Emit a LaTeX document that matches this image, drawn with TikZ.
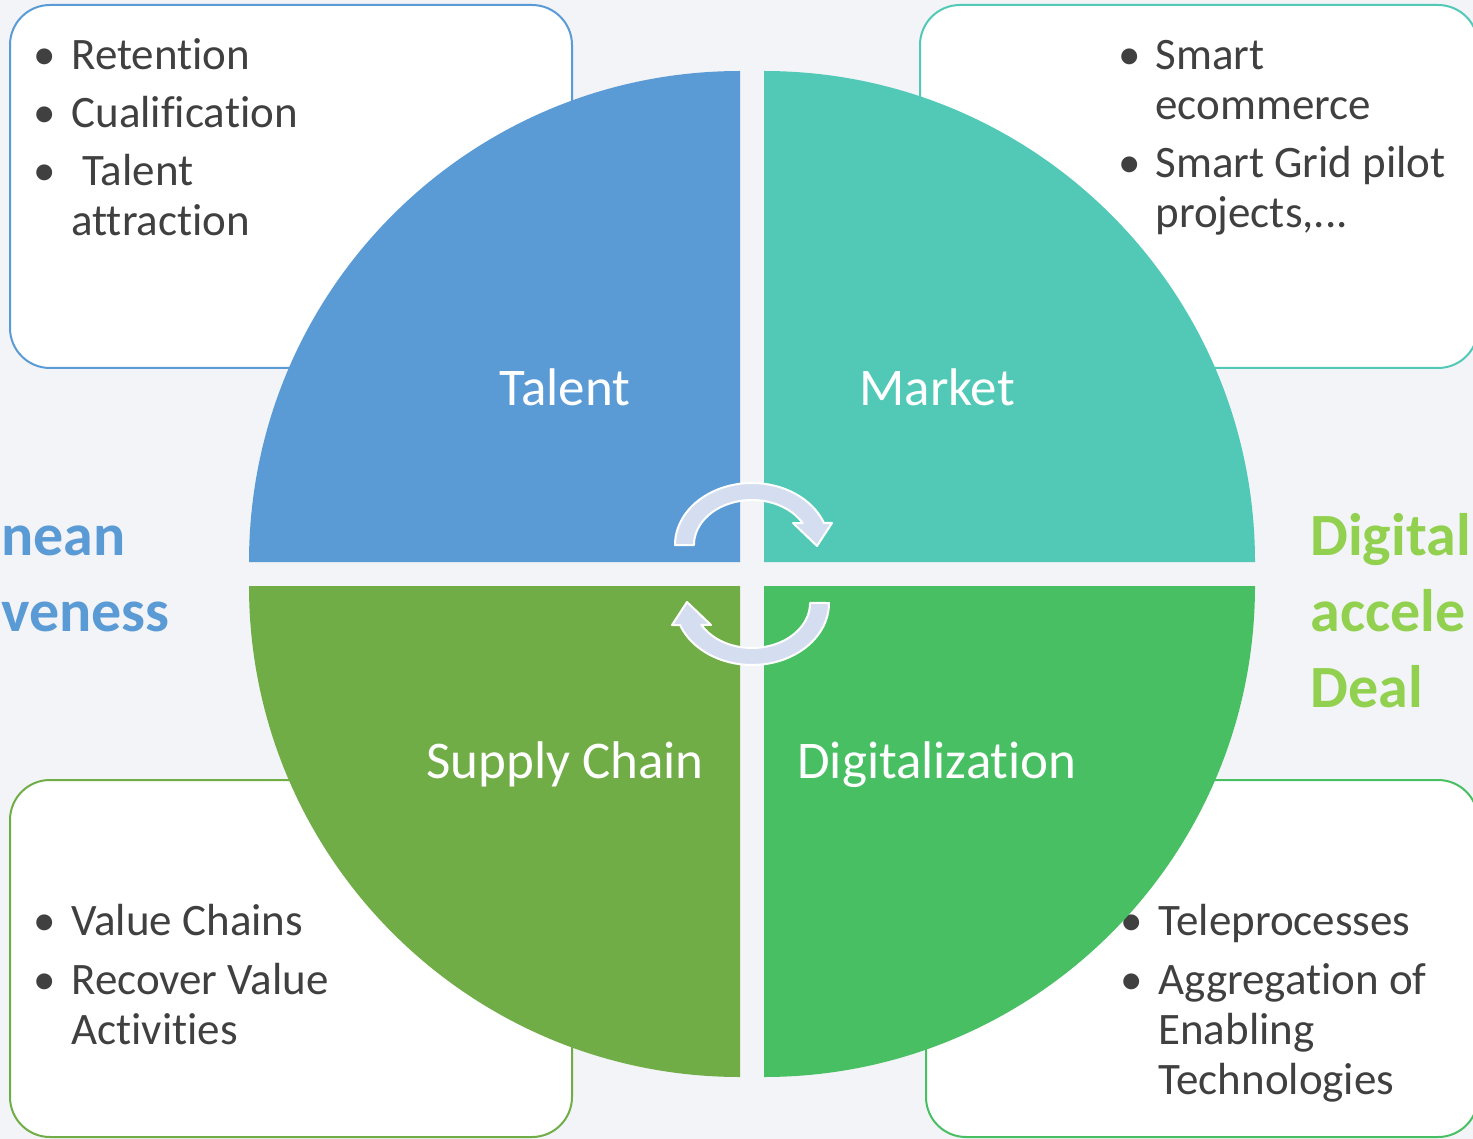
\documentclass[tikz,border=0pt]{standalone}
\usepackage{fontspec}
\setmainfont{Carlito}[RawFeature={-liga;-clig;-dlig;-calt}]

\definecolor{bgcol}{HTML}{F3F4F7}
\definecolor{talentcol}{HTML}{5B9BD5}
\definecolor{marketcol}{HTML}{52C9B6}
\definecolor{supplycol}{HTML}{70AD47}
\definecolor{digicol}{HTML}{48BF63}
\definecolor{bodytext}{HTML}{404040}
\definecolor{arrowcol}{HTML}{D4DEF0}
\definecolor{limecol}{HTML}{92D050}

\tikzset{
  itemtext/.style={anchor=base west, inner sep=0pt, text=bodytext, font=\fontsize{22.5}{25}\selectfont},
  itemdot/.style={anchor=base, inner sep=0pt, text=bodytext, font=\fontsize{22.5}{25}\selectfont},
  quadtext/.style={anchor=base, inner sep=0pt, text=white, font=\fontsize{26.5}{30}\selectfont},
  sidetext/.style={inner sep=0pt, font=\fontsize{30}{38}\selectfont\bfseries},
  listbox/.style={line width=1pt, fill=white, rounded corners=20pt},
  cyclearrow/.style={fill=arrowcol, draw=white, line width=1pt, line join=round}
}

\begin{document}
\begin{tikzpicture}[x=0.5pt, y=-0.5pt]

\useasboundingbox (0,0) rectangle (1473,1139);
\fill[bgcol] (0,0) rectangle (1473,1139);

% the four lists
\filldraw[listbox, draw=talentcol] (10,5) rectangle (572,368);
\filldraw[listbox, draw=marketcol] (920,5) rectangle (1478,368);
\filldraw[listbox, draw=supplycol] (10,780) rectangle (572,1137);
\filldraw[listbox, draw=digicol] (926,780) rectangle (1478,1137);

\node[itemdot] (dr1) at (45,70) {•};
\node[itemtext] (r1) at (71,70) {Retention};
\node[itemdot] (dr2) at (45,128) {•};
\node[itemtext] (r2) at (71,128) {Cualification};
\node[itemdot] (dr3) at (45,186) {•};
\node[itemtext] (r3) at (82,186) {Talent};
\node[itemtext] (r3b) at (71,236) {attraction};

\node[itemdot] (dm1) at (1130,70) {•};
\node[itemtext] (m1) at (1155,70) {Smart};
\node[itemtext] (m1b) at (1155,120) {ecommerce};
\node[itemdot] (dm2) at (1130,178) {•};
\node[itemtext] (m2) at (1155,178) {Smart Grid pilot};
\node[itemtext] (m2b) at (1155,228) {projects,...};

\node[itemdot] (ds1) at (45,935) {•};
\node[itemtext] (s1) at (71,935) {Value Chains};
\node[itemdot] (ds2) at (45,994) {•};
\node[itemtext] (s2) at (71,994) {Recover Value};
\node[itemtext] (s2b) at (71,1044) {Activities};

\node[itemdot] (dd1) at (1132,935) {•};
\node[itemtext] (d1) at (1158,935) {Teleprocesses};
\node[itemdot] (dd2) at (1132,994) {•};
\node[itemtext] (d2) at (1158,994) {Aggregation of};
\node[itemtext] (d2b) at (1158,1044) {Enabling};
\node[itemtext] (d2c) at (1158,1094) {Technologies};

% quarters of the circle
\fill[talentcol] (740,562) -- (249,562) arc[start angle=180, end angle=270, radius=491] -- cycle;
\fill[marketcol] (764,562) -- (764,71) arc[start angle=270, end angle=360, radius=491] -- cycle;
\fill[digicol] (764,586) -- (1255,586) arc[start angle=0, end angle=90, radius=491] -- cycle;
\fill[supplycol] (740,586) -- (740,1077) arc[start angle=90, end angle=180, radius=491] -- cycle;

\node[quadtext] (talent) at (565,405) {Talent};
\node[quadtext] (market) at (937,405) {Market};
\node[quadtext] (supply) at (565,778) {Supply Chain};
\node[quadtext] (digital) at (937,778) {Digitalization};

\node[sidetext, text=talentcol, anchor=base west] (lt1) at (1,555) {nean};
\node[sidetext, text=talentcol, anchor=base west] (lt2) at (1,631) {veness};
\node[sidetext, text=limecol, anchor=base west] (rt1) at (1310,555) {Digital};
\node[sidetext, text=limecol, anchor=base west] (rt2) at (1310,631) {accele};
\node[sidetext, text=limecol, anchor=base west] (rt3) at (1310,707) {Deal};

% cycle arrows
\filldraw[cyclearrow] (675,545) arc[start angle=180, end angle=339.2, x radius=77, y radius=62]
  -- (832,523) -- (817,546) -- (793,523) -- (802.7,523.2)
  arc[start angle=331, end angle=180, x radius=58, y radius=45] -- cycle;
\begin{scope}[rotate around={180:(752,574)}]
\filldraw[cyclearrow] (675,545) arc[start angle=180, end angle=339.2, x radius=77, y radius=62]
  -- (832,523) -- (817,546) -- (793,523) -- (802.7,523.2)
  arc[start angle=331, end angle=180, x radius=58, y radius=45] -- cycle;
\end{scope}

\end{tikzpicture}
\end{document}
